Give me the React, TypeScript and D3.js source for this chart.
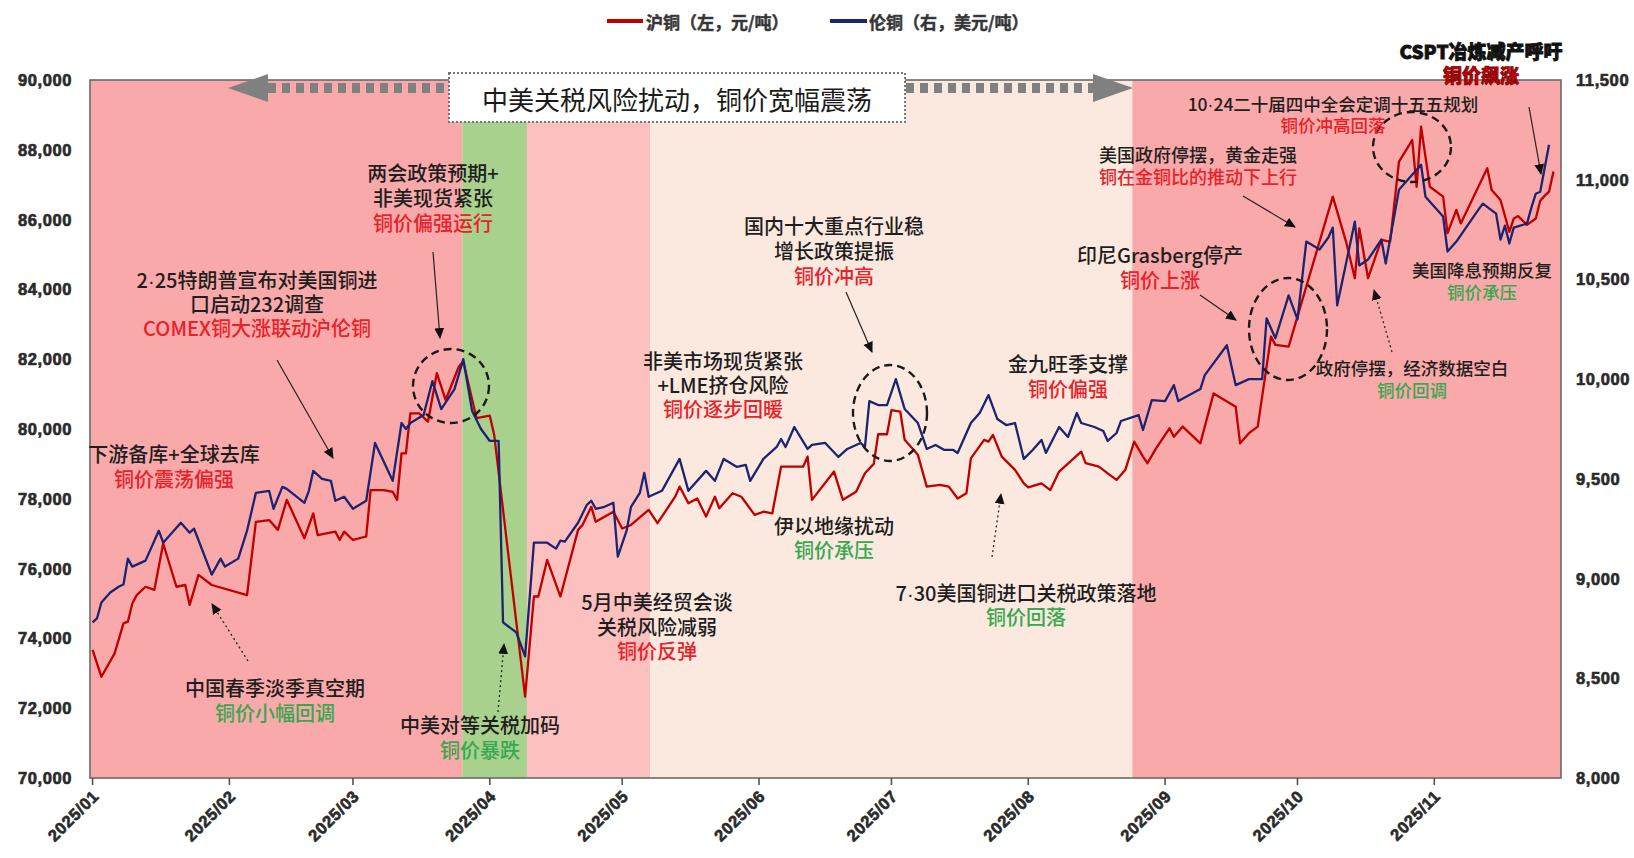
import React from "react";
import * as d3 from "d3";

// ---------------- DATA ----------------
const shfeDates = [
  "2025-01-01","2025-01-03","2025-01-06","2025-01-08","2025-01-09","2025-01-10","2025-01-11","2025-01-13","2025-01-15","2025-01-17",
  "2025-01-20","2025-01-22","2025-01-23","2025-01-25","2025-01-28","2025-02-05","2025-02-07","2025-02-10","2025-02-12","2025-02-14",
  "2025-02-18","2025-02-20","2025-02-21","2025-02-25","2025-02-26","2025-02-27","2025-03-01","2025-03-04","2025-03-05","2025-03-08",
  "2025-03-10","2025-03-11","2025-03-12","2025-03-13","2025-03-14","2025-03-16","2025-03-18","2025-03-20","2025-03-22","2025-03-25",
  "2025-03-26","2025-03-29","2025-04-01","2025-04-02","2025-04-09","2025-04-11","2025-04-12","2025-04-14","2025-04-17","2025-04-21",
  "2025-04-22","2025-04-24","2025-04-25","2025-04-29","2025-05-01","2025-05-03","2025-05-07","2025-05-09","2025-05-13","2025-05-14",
  "2025-05-16","2025-05-18","2025-05-20","2025-05-22","2025-05-23","2025-05-26","2025-05-28","2025-05-31","2025-06-02","2025-06-04",
  "2025-06-06","2025-06-11","2025-06-12","2025-06-13","2025-06-18","2025-06-20","2025-06-23","2025-06-25","2025-06-27","2025-06-28",
  "2025-06-30","2025-07-01","2025-07-03","2025-07-04","2025-07-07","2025-07-09","2025-07-12","2025-07-14","2025-07-16","2025-07-18",
  "2025-07-19","2025-07-22","2025-07-23","2025-07-24","2025-07-26","2025-07-29","2025-07-31","2025-08-01","2025-08-04","2025-08-06",
  "2025-08-08","2025-08-13","2025-08-14","2025-08-17","2025-08-19","2025-08-21","2025-08-23","2025-08-25","2025-08-27","2025-08-28",
  "2025-08-30","2025-09-02","2025-09-03","2025-09-05","2025-09-09","2025-09-12","2025-09-17","2025-09-18","2025-09-20","2025-09-22",
  "2025-09-25","2025-09-26","2025-09-29","2025-10-09","2025-10-12","2025-10-14","2025-10-15","2025-10-17","2025-10-20","2025-10-22",
  "2025-10-24","2025-10-27","2025-10-28","2025-10-29","2025-10-31","2025-11-03","2025-11-04","2025-11-06","2025-11-07","2025-11-13",
  "2025-11-14","2025-11-16","2025-11-18","2025-11-19","2025-11-20","2025-11-22","2025-11-24","2025-11-25","2025-11-26","2025-11-27",
  "2025-11-28"
];
const shfeValues = [
  73670,72900,73570,74430,74480,75000,75240,75480,75390,76720,
  75480,75530,74960,75820,75530,75240,77340,77390,77110,77970,
  76870,77580,76960,77060,76820,77060,76820,76920,78250,78250,
  78200,77970,79300,79300,80450,80450,80210,81600,80830,81790,
  81930,80310,80380,79830,72330,75200,75200,76250,75200,77110,
  77250,77770,77340,77630,77150,77250,77680,77300,78060,78350,
  77870,78010,77490,78060,77730,78160,78060,77540,77630,77580,
  78920,78920,79210,77970,78780,77970,78200,78730,79000,79850,
  79850,80540,80500,79690,79260,78350,78400,78350,78010,78160,
  79160,79690,79640,79830,79210,78830,78440,78330,78440,78250,
  78780,79350,79020,78920,78730,78540,78830,79640,79210,79020,
  79450,80020,79780,80070,79590,81020,80640,79590,79880,80070,
  82650,82410,82360,86660,85370,84320,85750,84320,85420,85370,
  87660,88280,86940,88660,86940,86660,85610,86280,85890,87470,
  86850,86560,85650,86030,86100,85850,86030,86540,86680,86800,
  87375
];
const lmeDates = [
  "2025-01-01","2025-01-02","2025-01-03","2025-01-05","2025-01-07","2025-01-08","2025-01-09","2025-01-10","2025-01-13","2025-01-15",
  "2025-01-16","2025-01-17","2025-01-21","2025-01-23","2025-01-24","2025-01-28","2025-01-30","2025-01-31","2025-02-03","2025-02-05",
  "2025-02-07","2025-02-10","2025-02-11","2025-02-13","2025-02-14","2025-02-18","2025-02-19","2025-02-20","2025-02-22","2025-02-24",
  "2025-02-25","2025-02-27","2025-03-01","2025-03-04","2025-03-06","2025-03-10","2025-03-12","2025-03-13","2025-03-14","2025-03-17",
  "2025-03-19","2025-03-21","2025-03-24","2025-03-26","2025-03-28","2025-03-30","2025-04-01","2025-04-03","2025-04-04","2025-04-07",
  "2025-04-09","2025-04-11","2025-04-14","2025-04-16","2025-04-17","2025-04-18","2025-04-21","2025-04-23","2025-04-24","2025-04-25",
  "2025-04-27","2025-04-29","2025-04-30","2025-05-02","2025-05-03","2025-05-05","2025-05-06","2025-05-07","2025-05-10","2025-05-13",
  "2025-05-14","2025-05-16","2025-05-20","2025-05-22","2025-05-24","2025-05-27","2025-05-29","2025-05-30","2025-06-02","2025-06-05",
  "2025-06-06","2025-06-07","2025-06-09","2025-06-12","2025-06-13","2025-06-16","2025-06-19","2025-06-21","2025-06-24","2025-06-25",
  "2025-06-26","2025-06-28","2025-06-30","2025-07-02","2025-07-04","2025-07-07","2025-07-09","2025-07-11","2025-07-13","2025-07-15",
  "2025-07-16","2025-07-19","2025-07-21","2025-07-23","2025-07-25","2025-07-27","2025-07-29","2025-07-31","2025-08-02","2025-08-04",
  "2025-08-05","2025-08-08","2025-08-10","2025-08-12","2025-08-13","2025-08-16","2025-08-18","2025-08-19","2025-08-21","2025-08-22",
  "2025-08-26","2025-08-27","2025-08-29","2025-09-01","2025-09-03","2025-09-04","2025-09-09","2025-09-10","2025-09-15","2025-09-17",
  "2025-09-20","2025-09-23","2025-09-24","2025-09-26","2025-09-29","2025-10-01","2025-10-03","2025-10-06","2025-10-08","2025-10-09",
  "2025-10-10","2025-10-14","2025-10-15","2025-10-17","2025-10-20","2025-10-21","2025-10-24","2025-10-29","2025-10-30","2025-11-03",
  "2025-11-04","2025-11-06","2025-11-11","2025-11-12","2025-11-15","2025-11-16","2025-11-17","2025-11-18","2025-11-19","2025-11-22",
  "2025-11-23","2025-11-24","2025-11-25","2025-11-27"
];
const lmeValues = [
  8780,8800,8880,8930,8960,8970,9100,9060,9090,9190,
  9240,9180,9280,9230,9250,9020,9100,9060,9100,9240,
  9430,9440,9350,9460,9450,9380,9440,9540,9500,9490,
  9390,9410,9350,9390,9680,9490,9780,9750,9780,9820,
  9990,9850,9950,10100,9840,9750,9690,9690,8780,8730,
  8610,9180,9180,9150,9190,9185,9280,9370,9390,9350,
  9360,9380,9110,9240,9360,9430,9530,9410,9440,9560,
  9600,9440,9540,9490,9600,9560,9570,9490,9600,9660,
  9700,9660,9760,9650,9670,9680,9610,9650,9680,9660,
  9890,9870,9870,10000,9850,9780,9650,9670,9645,9645,
  9630,9780,9830,9920,9800,9770,9780,9600,9645,9695,
  9630,9760,9710,9830,9780,9760,9740,9690,9730,9790,
  9820,9745,9895,9890,9970,9890,9950,10020,10170,9970,
  10000,10000,10305,10205,10420,10300,10690,10650,10710,10760,
  10370,10790,10570,10600,10700,10580,10950,11075,10915,10815,
  10640,10690,10850,10880,10830,10700,10770,10680,10760,10780,
  10860,10930,10940,11175
];

const leftTicks = [70000,72000,74000,76000,78000,80000,82000,84000,86000,88000,90000];
const rightTicks = [8000,8500,9000,9500,10000,10500,11000,11500];
const monthTicks = ["2025-01-01","2025-02-01","2025-03-01","2025-04-01","2025-05-01","2025-06-01","2025-07-01","2025-08-01","2025-09-01","2025-10-01","2025-11-01"];
const monthLabels = ["2025/01","2025/02","2025/03","2025/04","2025/05","2025/06","2025/07","2025/08","2025/09","2025/10","2025/11"];

const bandStarts = ["2024-12-31 10:00","2025-03-25 18:00","2025-04-09 10:00","2025-05-07 08:00","2025-08-24 14:00"];
const bandEnds   = ["2025-03-25 18:00","2025-04-09 10:00","2025-05-07 08:00","2025-08-24 14:00","2025-11-29 17:00"];
const bandColors = ["#f9a9a9","#a9d18e","#fcc1bf","#fbe9df","#f9a9a9"];

const legendNames = ["沪铜（左，元/吨）","伦铜（右，美元/吨）"];
const bannerText = "中美关税风险扰动，铜价宽幅震荡";

// ---------------- STYLE / LAYOUT ----------------
const W = 1634, H = 858;
const M = { left: 90, right: 1561, top: 80, bottom: 778 };
const RED_LINE = "#c00000";
const BLUE_LINE = "#1c2470";
const BLK = "#1e1e1e";
const RED_T = "#e8222a";
const GRN_T = "#36a852";
const CJK = "'Noto Sans CJK SC', 'Noto Sans', sans-serif";
const NUM = "'Liberation Sans', Arial, sans-serif";

type Note = { x: number; y: number; size: number; lh: number; lines: [string, string][] };
const notes: Note[] = [
  { x: 174, y: 455, size: 20, lh: 25, lines: [["下游备库+全球去库", BLK], ["铜价震荡偏强", RED_T]] },
  { x: 257, y: 281, size: 20, lh: 24, lines: [["2·25特朗普宣布对美国铜进", BLK], ["口启动232调查", BLK], ["COMEX铜大涨联动沪伦铜", RED_T]] },
  { x: 433, y: 174, size: 20, lh: 25, lines: [["两会政策预期+", BLK], ["非美现货紧张", BLK], ["铜价偏强运行", RED_T]] },
  { x: 275, y: 689, size: 20, lh: 25, lines: [["中国春季淡季真空期", BLK], ["铜价小幅回调", GRN_T]] },
  { x: 480, y: 726, size: 20, lh: 25, lines: [["中美对等关税加码", BLK], ["铜价暴跌", GRN_T]] },
  { x: 657, y: 603, size: 20, lh: 24.5, lines: [["5月中美经贸会谈", BLK], ["关税风险减弱", BLK], ["铜价反弹", RED_T]] },
  { x: 723, y: 362, size: 20, lh: 24, lines: [["非美市场现货紧张", BLK], ["+LME挤仓风险", BLK], ["铜价逐步回暖", RED_T]] },
  { x: 834, y: 227, size: 20, lh: 25, lines: [["国内十大重点行业稳", BLK], ["增长政策提振", BLK], ["铜价冲高", RED_T]] },
  { x: 834, y: 527, size: 20, lh: 24, lines: [["伊以地缘扰动", BLK], ["铜价承压", GRN_T]] },
  { x: 1068, y: 365, size: 20, lh: 25, lines: [["金九旺季支撑", BLK], ["铜价偏强", RED_T]] },
  { x: 1026, y: 594, size: 20, lh: 24, lines: [["7·30美国铜进口关税政策落地", BLK], ["铜价回落", GRN_T]] },
  { x: 1160, y: 256, size: 20, lh: 25, lines: [["印尼Grasberg停产", BLK], ["铜价上涨", RED_T]] },
  { x: 1198, y: 156, size: 18, lh: 21.5, lines: [["美国政府停摆，黄金走强", BLK], ["铜在金铜比的推动下上行", RED_T]] },
  { x: 1333, y: 105, size: 17.5, lh: 21, lines: [["10·24二十届四中全会定调十五五规划", BLK], ["铜价冲高回落", RED_T]] },
  { x: 1482, y: 271, size: 17.5, lh: 22, lines: [["美国降息预期反复", BLK], ["铜价承压", GRN_T]] },
  { x: 1412, y: 369, size: 17.5, lh: 22, lines: [["政府停摆，经济数据空白", BLK], ["铜价回调", GRN_T]] },
];

type Arrow = { x1: number; y1: number; x2: number; y2: number; dotted: boolean };
const arrows: Arrow[] = [
  { x1: 277, y1: 360, x2: 333, y2: 458, dotted: false },
  { x1: 433, y1: 252, x2: 440, y2: 338, dotted: false },
  { x1: 248, y1: 661, x2: 212, y2: 604, dotted: true },
  { x1: 498, y1: 712, x2: 504, y2: 644, dotted: true },
  { x1: 846, y1: 292, x2: 872, y2: 352, dotted: false },
  { x1: 992, y1: 557, x2: 1001, y2: 494, dotted: true },
  { x1: 1200, y1: 295, x2: 1236, y2: 320, dotted: false },
  { x1: 1243, y1: 196, x2: 1295, y2: 227, dotted: false },
  { x1: 1392, y1: 352, x2: 1374, y2: 290, dotted: true },
  { x1: 1529, y1: 107, x2: 1541, y2: 174, dotted: false },
];

type Ell = { cx: number; cy: number; rx: number; ry: number };
const circles: Ell[] = [
  { cx: 451, cy: 386, rx: 38, ry: 37 },
  { cx: 890, cy: 413, rx: 37, ry: 48 },
  { cx: 1288, cy: 329, rx: 39, ry: 51 },
  { cx: 1412, cy: 147, rx: 39, ry: 35 },
];

// renders a line, using a narrow Latin middle dot instead of the CJK full-width one
function renderParts(s: string) {
  const parts = s.split("·");
  const out: React.ReactNode[] = [];
  parts.forEach((p, i) => {
    if (i > 0) out.push(<tspan key={"d" + i} fontFamily={NUM}>·</tspan>);
    out.push(<tspan key={"p" + i}>{p}</tspan>);
  });
  return out;
}

export default function App() {
  const parse = d3.timeParse("%Y-%m-%d");
  const parseT = d3.timeParse("%Y-%m-%d %H:%M");
  const x = d3.scaleTime()
    .domain([parseT("2024-12-31 10:00") as Date, parseT("2025-11-29 17:00") as Date])
    .range([M.left, M.right]);
  const yL = d3.scaleLinear().domain([70000, 90000]).range([M.bottom, M.top]);
  const yR = d3.scaleLinear().domain([8000, 11500]).range([M.bottom, M.top]);

  const shfe: [Date, number][] = shfeDates.map((d, i) => [parse(d) as Date, shfeValues[i]]);
  const lme: [Date, number][] = lmeDates.map((d, i) => [parse(d) as Date, lmeValues[i]]);
  const lineL = d3.line<[Date, number]>().x(d => x(d[0])).y(d => yL(d[1]));
  const lineR = d3.line<[Date, number]>().x(d => x(d[0])).y(d => yR(d[1]));
  const fmt = d3.format(",");

  const axisText = {
    fontFamily: NUM, fontWeight: 700 as const, fontSize: 16.5, fill: "#2a2a2a",
    stroke: "#3a3a3a", strokeWidth: 0.7, letterSpacing: 0.6,
  };

  return (
    <div style={{ position: "absolute", left: 0, top: 0, width: W, height: H, background: "#fff" }}>
      <svg width={W} height={H} viewBox={`0 0 ${W} ${H}`} style={{ display: "block" }}>
        <defs>
          <marker id="ah" viewBox="0 0 10 10" refX="9" refY="5" markerWidth="11" markerHeight="11"
            markerUnits="userSpaceOnUse" orient="auto">
            <path d="M0,0.5 L10,5 L0,9.5 z" fill="#111" />
          </marker>
        </defs>

        {/* background bands */}
        {bandStarts.map((s, i) => {
          const x0 = x(parseT(s) as Date);
          const x1 = x(parseT(bandEnds[i]) as Date);
          return <rect key={i} x={x0} y={M.top} width={x1 - x0} height={M.bottom - M.top} fill={bandColors[i]} />;
        })}

        {/* series */}
        <path d={lineL(shfe) || ""} fill="none" stroke={RED_LINE} strokeWidth={2.3} strokeLinejoin="round" />
        <path d={lineR(lme) || ""} fill="none" stroke={BLUE_LINE} strokeWidth={2.3} strokeLinejoin="round" />

        {/* dashed circles */}
        {circles.map((c, i) => (
          <ellipse key={i} cx={c.cx} cy={c.cy} rx={c.rx} ry={c.ry} fill="none" stroke="#1a1a1a"
            strokeWidth={2.4} strokeDasharray="8 5" />
        ))}

        {/* annotation arrows */}
        {arrows.map((a, i) => (
          <line key={i} x1={a.x1} y1={a.y1} x2={a.x2} y2={a.y2} stroke="#222"
            strokeWidth={a.dotted ? 1.3 : 1.2} strokeDasharray={a.dotted ? "2 3" : undefined}
            markerEnd="url(#ah)" />
        ))}

        {/* plot frame */}
        <rect x={M.left} y={M.top} width={M.right - M.left} height={M.bottom - M.top} fill="none"
          stroke="#6a6a6a" strokeWidth={1.6} />

        {/* banner arrows */}
        <line x1={268} y1={88} x2={449} y2={88} stroke="#808080" strokeWidth={10} strokeDasharray="8 6" />
        <polygon points="228,88 268,74 268,102" fill="#808080" />
        <line x1={906} y1={88} x2={1093} y2={88} stroke="#808080" strokeWidth={10} strokeDasharray="8 6" />
        <polygon points="1133,88 1093,74 1093,102" fill="#808080" />
        <rect x={449} y={73} width={456} height={49} fill="#fff" stroke="#777" strokeWidth={2} strokeDasharray="2 2" />
        <text x={677} y={98} textAnchor="middle" dominantBaseline="central" fontFamily={CJK} fontSize={26}
          fill="#1a1a1a">{bannerText}</text>

        {/* annotations */}
        {notes.map((n, i) => (
          <text key={i} textAnchor="middle" fontFamily={CJK} fontSize={n.size} fontWeight={500}>
            {n.lines.map((l, j) => (
              <tspan key={j} x={n.x} y={n.y + j * n.lh} dy="0.36em" fill={l[1]}>{renderParts(l[0])}</tspan>
            ))}
          </text>
        ))}
        <text textAnchor="middle" fontFamily={CJK} fontSize={19} fontWeight={900}>
          <tspan x={1481} y={52} dy="0.36em" fill="#111" stroke="#111" strokeWidth={0.8}>CSPT冶炼减产呼吁</tspan>
          <tspan x={1481} y={76} dy="0.36em" fill="#c80000" stroke="#6a0000" strokeWidth={0.7}>铜价飙涨</tspan>
        </text>

        {/* left axis */}
        {leftTicks.map(t => (
          <text key={t} x={72} y={yL(t)} textAnchor="end" dominantBaseline="central" style={{ paintOrder: "stroke" }} {...axisText}>{fmt(t)}</text>
        ))}
        {/* right axis */}
        {rightTicks.map(t => (
          <text key={t} x={1576} y={yR(t)} textAnchor="start" dominantBaseline="central" style={{ paintOrder: "stroke" }} {...axisText}>{fmt(t)}</text>
        ))}
        {/* x axis */}
        {monthTicks.map((m, i) => {
          const tx = x(parse(m) as Date);
          return (
            <g key={m}>
              <line x1={tx} y1={M.bottom} x2={tx} y2={M.bottom + 7} stroke="#555" strokeWidth={1.6} />
              <text transform={`translate(${tx + 3},${M.bottom + 15}) rotate(-45)`} textAnchor="end"
                dominantBaseline="central" style={{ paintOrder: "stroke" }} {...axisText}>{monthLabels[i]}</text>
            </g>
          );
        })}

        {/* legend */}
        <line x1={607} y1={21} x2={643} y2={21} stroke={RED_LINE} strokeWidth={4} />
        <text x={646} y={21} dominantBaseline="central" fontFamily={CJK} fontSize={17} fontWeight={700}
          fill="#333" stroke="#444" strokeWidth={0.5}>{legendNames[0]}</text>
        <line x1={830} y1={21} x2={867} y2={21} stroke={BLUE_LINE} strokeWidth={4} />
        <text x={869} y={21} dominantBaseline="central" fontFamily={CJK} fontSize={17} fontWeight={700}
          fill="#333" stroke="#444" strokeWidth={0.5}>{legendNames[1]}</text>
      </svg>
    </div>
  );
}
